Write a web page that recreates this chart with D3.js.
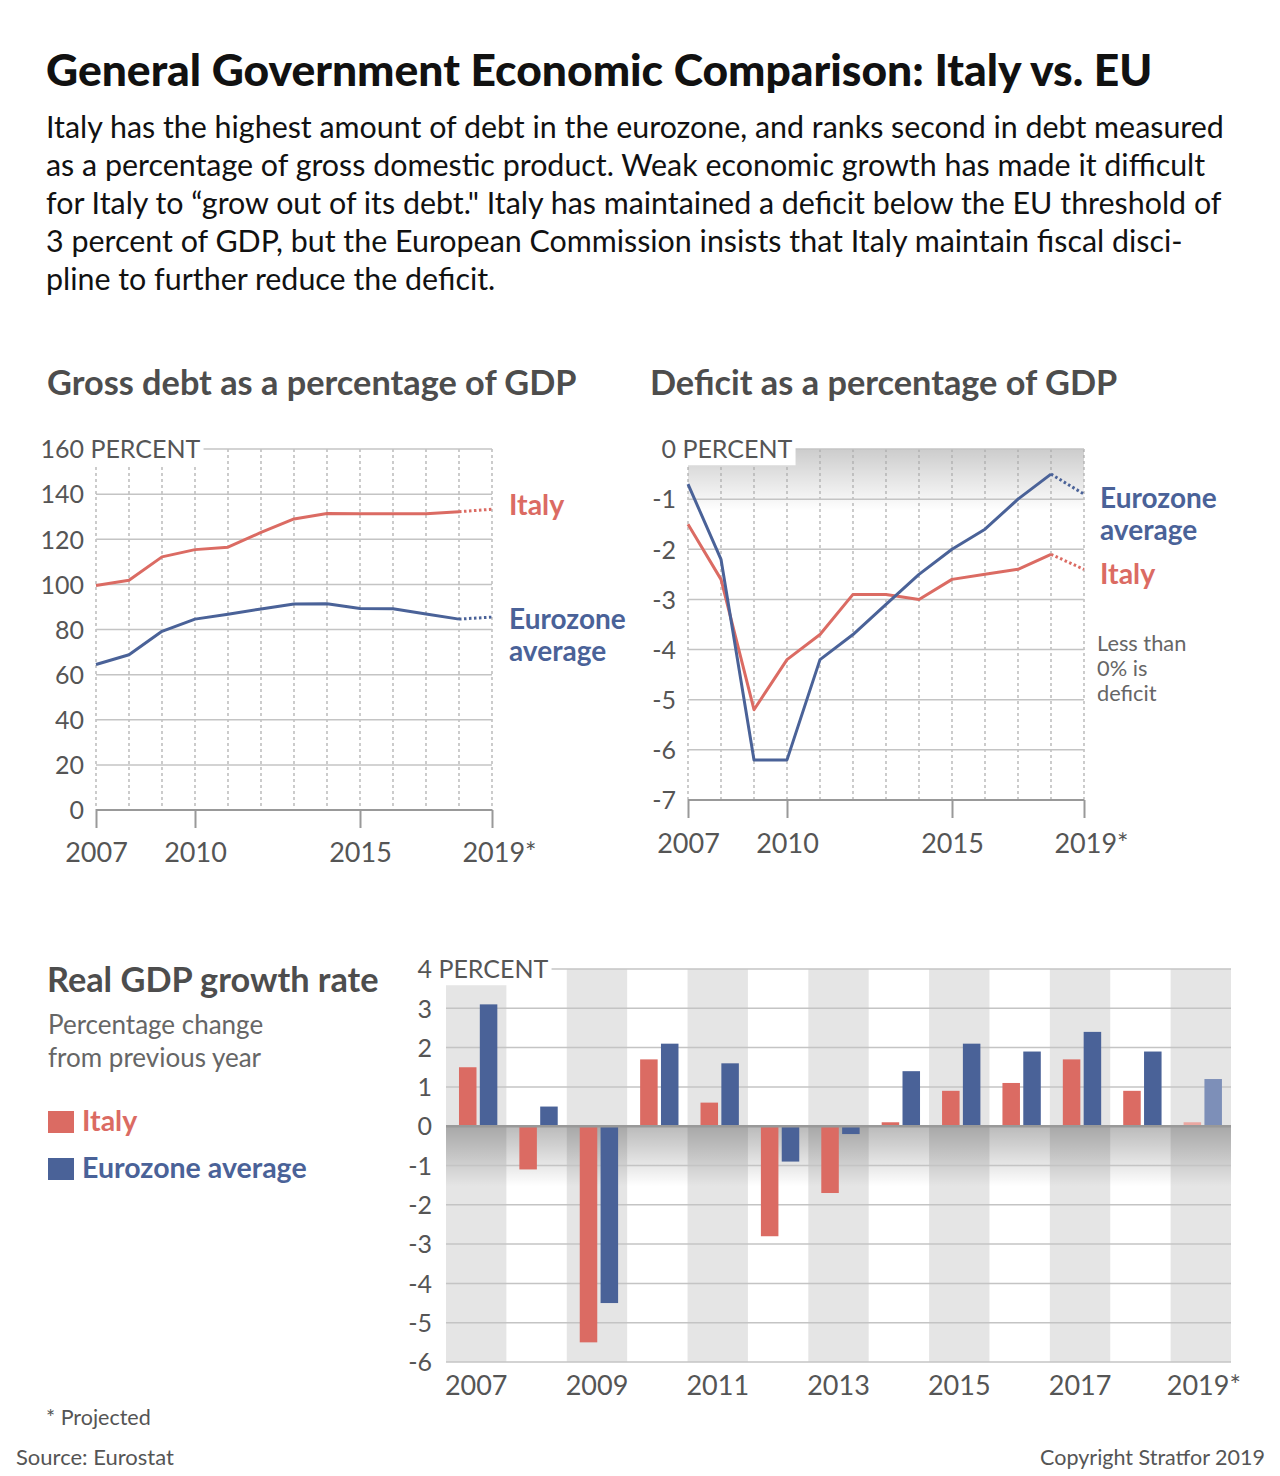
<!DOCTYPE html>
<html>
<head>
<meta charset="utf-8">
<script src="https://cdn.jsdelivr.net/npm/d3@7"></script>
<style>
  body { margin: 0; background: #fff; }
  svg { display: block; font-family: Lato, "Open Sans", sans-serif; }
</style>
</head>
<body>
<svg id="chart" width="1280" height="1476"></svg>
<script>
// data
var years        = [2007, 2008, 2009, 2010, 2011, 2012, 2013, 2014, 2015, 2016, 2017, 2018, 2019];
var debtItaly    = [99.5, 101.8, 112.2, 115.4, 116.5, 123.0, 129.0, 131.4, 131.3, 131.3, 131.3, 132.2, 133.3];
var debtEZ       = [64.5, 68.8, 79.2, 84.6, 86.8, 89.1, 91.3, 91.4, 89.3, 89.2, 86.9, 84.6, 85.5];
var defItaly     = [-1.5, -2.6, -5.2, -4.2, -3.7, -2.9, -2.9, -3.0, -2.6, -2.5, -2.4, -2.1, -2.4];
var defEZ        = [-0.7, -2.2, -6.2, -6.2, -4.2, -3.7, -3.1, -2.5, -2.0, -1.6, -1.0, -0.5, -0.9];
var growthItaly  = [1.5, -1.1, -5.5, 1.7, 0.6, -2.8, -1.7, 0.1, 0.9, 1.1, 1.7, 0.9, 0.1];
var growthEZ     = [3.1, 0.5, -4.5, 2.1, 1.6, -0.9, -0.2, 1.4, 2.1, 1.9, 2.4, 1.9, 1.2];
var debtTicks    = [0, 20, 40, 60, 80, 100, 120, 140, 160];
var defTicks     = [-7, -6, -5, -4, -3, -2, -1, 0];
var growthTicks  = [-6, -5, -4, -3, -2, -1, 0, 1, 2, 3, 4];
var lineYearTicks = [2007, 2010, 2015, 2019];
var barYearTicks  = [2007, 2009, 2011, 2013, 2015, 2017, 2019];
var projectedYear = 2019;

var RED = "#db6b63", BLUE = "#4a6298", RED_LT = "#eaa7a1", BLUE_LT = "#7d8fb8";
var TXT = "#555", GRID = "#c4c4c4";

var svg = d3.select("#chart");
var fmt = function(d) { return String(d); };   // plain hyphen minus like the original

// header
svg.append("text").attr("x", 46).attr("y", 86)
  .attr("font-size", 44.4).attr("font-weight", 900).attr("fill", "#111")
  .text("General Government Economic Comparison: Italy vs. EU");

var para = [
  "Italy has the highest amount of debt in the eurozone, and ranks second in debt measured",
  "as a percentage of gross domestic product. Weak economic growth has made it difficult",
  "for Italy to \u201cgrow out of its debt.\" Italy has maintained a deficit below the EU threshold of",
  "3 percent of GDP, but the European Commission insists that Italy maintain fiscal disci-",
  "pline to further reduce the deficit."
];
svg.append("g").selectAll("text").data(para).enter().append("text")
  .attr("x", 46).attr("y", function(d, i) { return 138 + i * 38; })
  .attr("font-size", 30.4).attr("fill", "#111").text(function(d) { return d; });

function heading(x, y, t) {
  svg.append("text").attr("x", x).attr("y", y).attr("font-size", 34.3)
    .attr("font-weight", 700).attr("fill", "#4d4d4d").text(t);
}
heading(47, 395, "Gross debt as a percentage of GDP");
heading(650, 395, "Deficit as a percentage of GDP");
heading(47, 992, "Real GDP growth rate");

var defs = svg.append("defs");
function fade(id, op) {
  var g = defs.append("linearGradient").attr("id", id)
    .attr("x1", 0).attr("y1", 0).attr("x2", 0).attr("y2", 1);
  g.append("stop").attr("offset", "0%").attr("stop-color", "#000").attr("stop-opacity", op);
  g.append("stop").attr("offset", "100%").attr("stop-color", "#000").attr("stop-opacity", 0);
}
fade("fadeDef", 0.2);
fade("fadeBar", 0.27);

// y labels with "PERCENT" on the top one, white box behind it
function yLabels(g, y, ticks, xRight) {
  var top = d3.max(ticks);
  var ax = d3.axisLeft(y).tickValues(ticks).tickSize(0).tickPadding(0).tickFormat(fmt);
  var a = g.append("g").attr("transform", "translate(" + xRight + ",0)").call(ax);
  a.select(".domain").remove();
  a.selectAll("text").attr("font-size", 25).attr("fill", TXT)
    .attr("font-family", "Lato, sans-serif").attr("dy", "0.35em");
  a.selectAll(".tick").filter(function(d) { return d === top; }).each(function() {
    var t = d3.select(this).select("text");
    var w = t.node().getComputedTextLength();
    t.attr("text-anchor", "start").attr("x", -w).text(fmt(top) + " PERCENT");
    var bb = t.node().getBBox();
    d3.select(this).insert("rect", "text")
      .attr("x", bb.x - 3).attr("y", bb.y - 2)
      .attr("width", bb.width + 6).attr("height", bb.height + 4).attr("fill", "#fff");
  });
  return a;
}

function lineChart(opts) {
  var g = svg.append("g");
  var x = d3.scaleLinear().domain([2007, 2019]).range(opts.xr);
  var y = d3.scaleLinear().domain(opts.yd).range(opts.yr);
  var x0 = opts.xr[0], x1 = opts.xr[1];

  if (opts.fade) {
    g.append("rect").attr("x", x0).attr("width", x1 - x0)
      .attr("y", y(0)).attr("height", 62).attr("fill", "url(#" + opts.fade + ")");
  }
  // vertical dotted year lines
  g.selectAll(".vg").data(years).enter().append("line")
    .attr("x1", function(d) { return x(d); }).attr("x2", function(d) { return x(d); })
    .attr("y1", opts.yr[1]).attr("y2", opts.yr[0])
    .attr("stroke", "#aaa").attr("stroke-width", 1.2).attr("stroke-dasharray", "3,3");
  // horizontal grid
  g.selectAll(".hg").data(opts.ticks).enter().append("line")
    .attr("x1", x0).attr("x2", x1)
    .attr("y1", function(d) { return y(d); }).attr("y2", function(d) { return y(d); })
    .attr("stroke", function(d) { return d === opts.yd[0] ? "#999" : GRID; })
    .attr("stroke-width", function(d) { return d === opts.yd[0] ? 2 : 1.5; });

  yLabels(g, y, opts.ticks, x0 - 12);

  // x axis ticks + labels
  var xa = d3.axisBottom(x).tickValues(lineYearTicks).tickSize(18).tickPadding(opts.pad)
    .tickFormat(function(d) { return d === projectedYear ? d + "*" : d; });
  var xg = g.append("g").attr("transform", "translate(0," + opts.yr[0] + ")").call(xa);
  xg.select(".domain").remove();
  xg.selectAll("line").attr("stroke", "#999").attr("stroke-width", 2);
  xg.selectAll("text").attr("font-size", 27).attr("fill", TXT)
    .attr("font-family", "Lato, sans-serif")
    .attr("dx", function(d) { return d === projectedYear ? 7 : 0; });

  var line = d3.line().x(function(d) { return x(d.year); }).y(function(d) { return y(d.v); });
  opts.series.forEach(function(s) {
    var pts = years.map(function(yr, i) { return { year: yr, v: s.values[i] }; });
    g.append("path").datum(pts.slice(0, pts.length - 1)).attr("d", line)
      .attr("fill", "none").attr("stroke", s.color).attr("stroke-width", 3)
      .attr("stroke-linejoin", "round");
    g.append("path").datum(pts.slice(pts.length - 2)).attr("d", line)
      .attr("fill", "none").attr("stroke", s.color).attr("stroke-width", 3)
      .attr("stroke-dasharray", "2.5,2.5");
  });
  return { x: x, y: y, g: g };
}

lineChart({
  xr: [96, 492], yd: [0, 160], yr: [810, 449], ticks: debtTicks, pad: 15,
  series: [{ values: debtItaly, color: RED }, { values: debtEZ, color: BLUE }]
});
lineChart({
  xr: [688, 1084], yd: [-7, 0], yr: [800, 449], ticks: defTicks, fade: "fadeDef", pad: 16,
  series: [{ values: defItaly, color: RED }, { values: defEZ, color: BLUE }]
});

function label(x, y, lines, color, size, weight, lh) {
  svg.append("g").selectAll("text").data(lines).enter().append("text")
    .attr("x", x).attr("y", function(d, i) { return y + i * lh; })
    .attr("font-size", size).attr("font-weight", weight).attr("fill", color)
    .text(function(d) { return d; });
}
label(509, 515, ["Italy"], RED, 28.5, 700, 32);
label(509, 629, ["Eurozone", "average"], BLUE, 28, 700, 32);
label(1100, 508, ["Eurozone", "average"], BLUE, 28, 700, 32);
label(1100, 584, ["Italy"], RED, 28.5, 700, 32);
label(1097, 651, ["Less than", "0% is", "deficit"], "#666", 21.8, 400, 25);

// bar chart
var bx = d3.scaleBand().domain(years).range([446, 1231]);
var by = d3.scaleLinear().domain([-6, 4]).range([1362, 969]);
var bg = svg.append("g");

bg.selectAll(".band").data(years.filter(function(d, i) { return i % 2 === 0; }))
  .enter().append("rect")
  .attr("x", function(d) { return bx(d); }).attr("width", bx.bandwidth())
  .attr("y", by(4)).attr("height", by(-6) - by(4)).attr("fill", "#e5e5e5");
bg.append("rect").attr("x", 446).attr("width", 1231 - 446)
  .attr("y", by(0)).attr("height", 60).attr("fill", "url(#fadeBar)");

bg.selectAll(".hg").data(growthTicks).enter().append("line")
  .attr("x1", 446).attr("x2", 1231)
  .attr("y1", function(d) { return by(d); }).attr("y2", function(d) { return by(d); })
  .attr("stroke", GRID).attr("stroke-width", 1.5);

var bw = bx.bandwidth() * 0.29;
function bars(vals, off, color, colorLt) {
  bg.append("g").selectAll("rect").data(years).enter().append("rect")
    .attr("x", function(d) { return bx(d) + bx.bandwidth() * off; })
    .attr("width", bw)
    .attr("y", function(d, i) { return by(Math.max(0, vals[i])); })
    .attr("height", function(d, i) { return Math.abs(by(vals[i]) - by(0)); })
    .attr("fill", function(d) { return d === projectedYear ? colorLt : color; });
}
bars(growthItaly, 0.215, RED, RED_LT);
bars(growthEZ, 0.56, BLUE, BLUE_LT);

bg.append("line").attr("x1", 446).attr("x2", 1231)
  .attr("y1", by(0)).attr("y2", by(0)).attr("stroke", "#999").attr("stroke-width", 2.5);

yLabels(bg, by, growthTicks, 432);

var bxa = d3.axisBottom(bx).tickValues(barYearTicks).tickSize(0).tickPadding(14)
  .tickFormat(function(d) { return d === projectedYear ? d + "*" : d; });
var bxg = bg.append("g").attr("transform", "translate(0," + by(-6) + ")").call(bxa);
bxg.select(".domain").remove();
bxg.selectAll("text").attr("font-size", 27).attr("fill", TXT)
  .attr("font-family", "Lato, sans-serif")
  .attr("dx", function(d) { return d === projectedYear ? 3 : 0; });

// legend + subtitle
label(48, 1034, ["Percentage change", "from previous year"], "#666", 26, 400, 33);
svg.append("rect").attr("x", 48).attr("y", 1111).attr("width", 26).attr("height", 22).attr("fill", RED);
svg.append("rect").attr("x", 48).attr("y", 1158).attr("width", 26).attr("height", 22).attr("fill", BLUE);
label(82, 1131, ["Italy"], RED, 28.5, 700, 0);
label(82, 1178, ["Eurozone average"], BLUE, 28.5, 700, 0);

// footer
label(46, 1425, ["* Projected"], "#555", 21.5, 400, 0);
label(16, 1465, ["Source: Eurostat"], "#555", 22, 400, 0);
svg.append("text").attr("x", 1265).attr("y", 1465).attr("text-anchor", "end")
  .attr("font-size", 21.5).attr("fill", "#555").text("Copyright Stratfor 2019");
</script>
</body>
</html>
